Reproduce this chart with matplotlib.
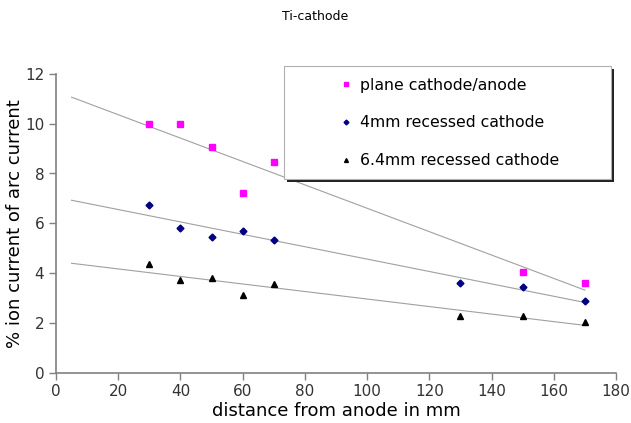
import matplotlib
matplotlib.use("Agg")
import matplotlib.pyplot as plt
from matplotlib.patches import Rectangle
import numpy as np

# data
dist_plane = [30, 40, 50, 60, 70, 150, 170]
ion_plane = [10.0, 10.0, 9.05, 7.2, 8.45, 4.05, 3.58]

dist_4mm = [30, 40, 50, 60, 70, 130, 150, 170]
ion_4mm = [6.75, 5.8, 5.45, 5.7, 5.33, 3.6, 3.45, 2.88]

dist_64mm = [30, 40, 50, 60, 70, 130, 150, 170]
ion_64mm = [4.38, 3.7, 3.8, 3.1, 3.57, 2.28, 2.28, 2.03]

labels = ["plane cathode/anode", "4mm recessed cathode", "6.4mm recessed cathode"]
fit_range = (5, 170)

W, H = 631, 423
fig = plt.figure(figsize=(W / 100, H / 100), dpi=100)
ax = fig.add_axes([56 / W, 50.5 / H, 560 / W, 298.5 / H])

series = [
    (dist_plane, ion_plane, "s", "#ff00ff", 4.5),
    (dist_4mm, ion_4mm, "D", "#000080", 3.5),
    (dist_64mm, ion_64mm, "^", "black", 4),
]
for (x, y, m, c, ms), lab in zip(series, labels):
    ax.plot(x, y, ls="none", marker=m, color=c, ms=ms, label=lab, zorder=3)
    k, b = np.polyfit(x, y, 1)  # linear trendline, as in the spreadsheet
    xs = np.array(fit_range)
    ax.plot(xs, k * xs + b, color="#a0a0a0", lw=0.8, zorder=2)

ax.set_xlim(0, 180)
ax.set_ylim(0, 12)
ax.set_xticks(np.arange(0, 181, 20))
ax.set_yticks(np.arange(0, 13, 2))
for side in ("top", "right"):
    ax.spines[side].set_visible(False)
for side in ("left", "bottom"):
    ax.spines[side].set_color("#808080")
    ax.spines[side].set_linewidth(1.2)
ax.tick_params(colors="#333333", labelsize=11, length=5, direction="out", width=1)
ax.tick_params(color="#808080")

ax.set_xlabel("distance from anode in mm", fontsize=13, labelpad=2)
ax.set_ylabel("% ion current of arc current", fontsize=13, labelpad=1)
fig.text(0.5, 0.962, "Ti-cathode", ha="center", va="center", fontsize=9)

# legend box with a drop shadow, drawn by hand so the handles sit inset like the original
x0, y0, bw, bh = 284, 66, 327, 113
fig.patches.append(Rectangle(((x0 + 3) / W, 1 - (y0 + bh + 3) / H), bw / W, bh / H,
                             transform=fig.transFigure, facecolor="#222222",
                             edgecolor="none", zorder=4))
fig.patches.append(Rectangle((x0 / W, 1 - (y0 + bh) / H), bw / W, bh / H,
                             transform=fig.transFigure, facecolor="white",
                             edgecolor="#b0b0b0", lw=0.8, zorder=5))

leg = ax.legend(loc="upper left", bbox_to_anchor=(334 / W, 1 - 73 / H),
                bbox_transform=fig.transFigure, fontsize=11.3, frameon=False,
                markerscale=0.7, handlelength=0.9, handletextpad=0.45,
                labelspacing=1.45, borderpad=0.3, borderaxespad=0)
leg.set_zorder(6)
leg.remove()
fig.add_artist(leg)

fig.savefig("out.png", dpi=100)
